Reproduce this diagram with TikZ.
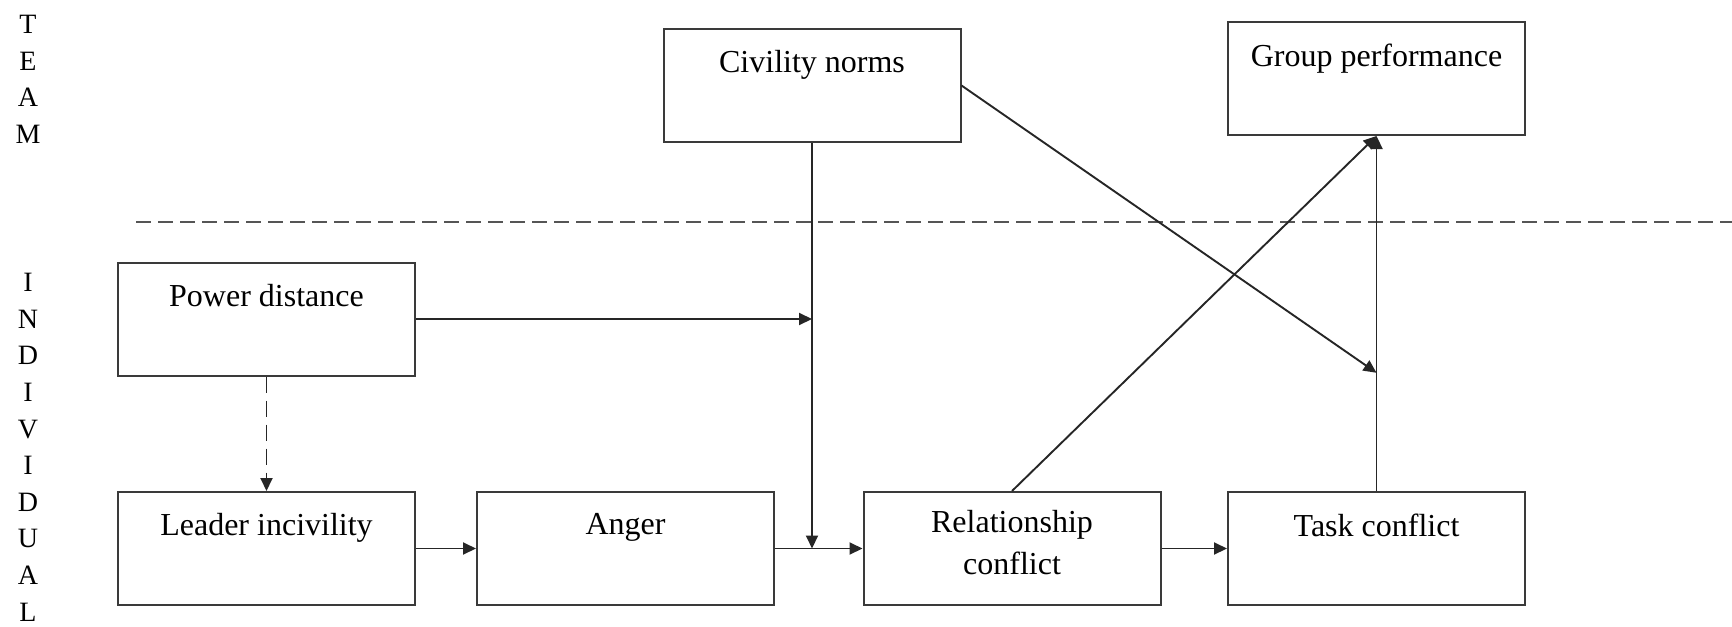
\documentclass[tikz,border=0pt]{standalone}
\usepackage{fontspec}
\setmainfont{Liberation Serif}
\usetikzlibrary{arrows.meta,calc}
\newcommand{\bxtext}[2][10.8pt]{\parbox[c][56.5pt][t]{148.5pt}{\centering\vspace*{#1}#2}}
\definecolor{boxline}{HTML}{3A3A3A}
\definecolor{divline}{HTML}{555555}
\begin{document}
\begin{tikzpicture}[x=0.5pt,y=-0.5pt,
  stagebox/.style={draw=boxline,line width=1pt,inner sep=0pt,fill=white,
    font=\fontsize{16}{21}\selectfont},
  sidelbl/.style={inner sep=0pt,align=center,font=\fontsize{14}{18.3}\selectfont},
  arr/.style={draw=black!85,line width=0.95pt,-{Triangle[length=6.5pt,width=6pt]}},
  dashln/.style={draw=divline,line width=0.75pt,dash pattern=on 7.5pt off 3.5pt}]
\useasboundingbox (0,0) rectangle (1732,626);
% side labels
\node[sidelbl,anchor=north] (team) at (28,15) {T\\E\\A\\M};
\node[sidelbl,anchor=north] (indiv) at (28,273) {I\\N\\D\\I\\V\\I\\D\\U\\A\\L};
% divider
\coordinate (dl) at (136,222);
\coordinate (dr) at (1740,222);
\draw[dashln] (dl) -- (dr);
% boxes
\node[stagebox] (pd) at (266.5,319) {\bxtext{Power distance}};
\node[stagebox] (li) at (266.5,548.5) {\bxtext{Leader incivility}};
\node[stagebox] (an) at (625.5,548.5) {\bxtext{Anger}};
\node[stagebox] (rc) at (1012,548.5) {\bxtext[9.3pt]{Relationship\\conflict}};
\node[stagebox] (tc) at (1376.5,548.5) {\bxtext{Task conflict}};
\node[stagebox] (cn) at (812,85.5) {\bxtext{Civility norms}};
\node[stagebox] (gp) at (1376.5,78.5) {\bxtext{Group performance}};
% helper points
\coordinate (m1) at (cn.south |- pd.east);
\coordinate (m2) at (cn.south |- an.east);
\coordinate (m3) at ($(tc.north)!0.333!(gp.south)$);
% connectors
\draw[arr,dash pattern=on 8pt off 4pt] (pd.south) -- (li.north);
\draw[arr] (li.east) -- (an.west);
\draw[arr] (an.east) -- (rc.west);
\draw[arr] (rc.east) -- (tc.west);
\draw[arr] (pd.east) -- (m1);
\draw[arr] (cn.south) -- (m2);
\draw[arr] (cn.east) -- (m3);
\draw[arr] (rc.north) -- (gp.south);
\draw[arr] (tc.north) -- (gp.south);
\end{tikzpicture}
\end{document}
